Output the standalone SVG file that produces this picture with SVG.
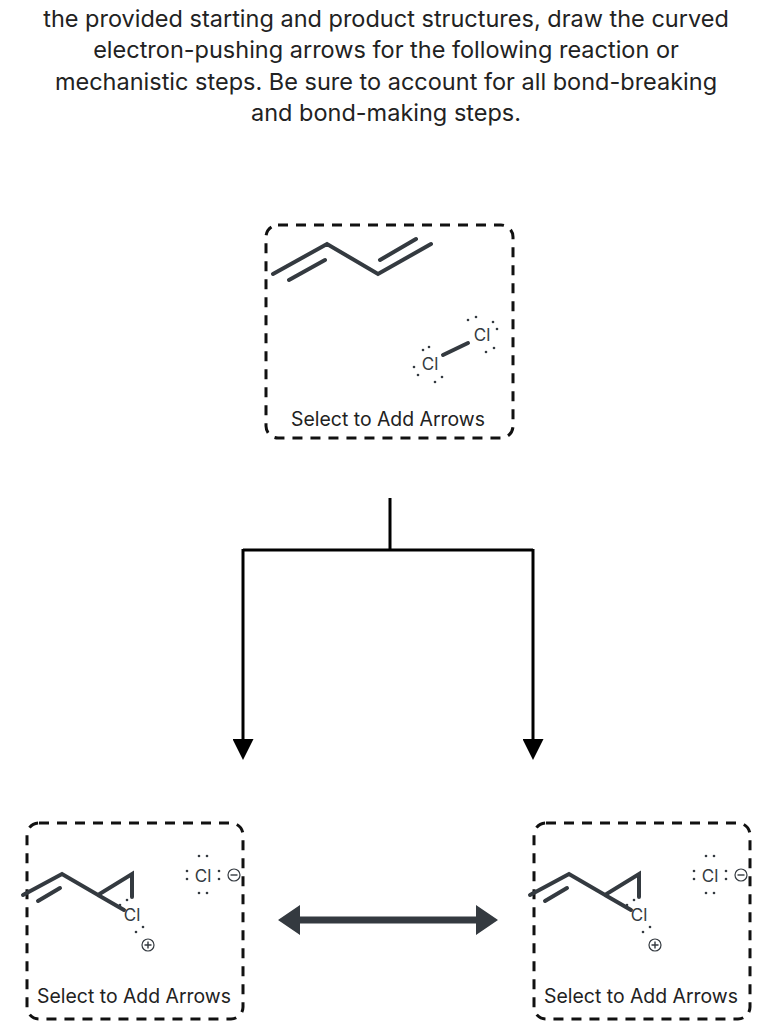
<svg xmlns="http://www.w3.org/2000/svg" width="771" height="1024" viewBox="0 0 771 1024">
<style>
.h{font-family:"Inter","Liberation Sans",sans-serif;font-size:23.5px;fill:#222;text-anchor:middle}
.box{fill:none;stroke:#111;stroke-width:3;stroke-dasharray:10,8}
.b{stroke:#343a40;stroke-width:4;fill:none;stroke-linecap:round}
.at{font-family:"Inter","Liberation Sans",sans-serif;font-size:17px;fill:#343a40;text-anchor:middle}
.lab{font-family:"Inter","Liberation Sans",sans-serif;font-size:19.4px;fill:#222;text-anchor:middle}
.d{fill:#343a40}
.c{stroke:#000;stroke-width:3;fill:none}
</style>
<defs>
<marker id="ah" markerWidth="7" markerHeight="7" refX="3" refY="3.5" orient="auto" markerUnits="strokeWidth"><path d="M0,0L7,3.5L0,7z" fill="#000"/></marker>
<g id="prod">
<path class="b" d="M3,895L42,874L78,895L112,874L112,897M78,895L104,910"/>
<path class="b" d="M18,901L40,888" stroke-width="3.5"/>
<text class="at" x="112" y="921">Cl</text>
<circle class="d" cx="100" cy="905" r="1.3"/><circle class="d" cx="107" cy="900" r="1.3"/>
<circle class="d" cx="116" cy="932" r="1.3"/><circle class="d" cx="123" cy="927" r="1.3"/>
<circle cx="128" cy="945" r="6" fill="none" stroke="#343a40" stroke-width="1.2"/>
<path d="M124.5,945h7M128,941.5v7" stroke="#343a40" stroke-width="1.4"/>
<text class="at" x="183" y="882">Cl</text>
<circle class="d" cx="179" cy="856" r="1.3"/><circle class="d" cx="187" cy="856" r="1.3"/>
<circle class="d" cx="179" cy="893" r="1.3"/><circle class="d" cx="187" cy="893" r="1.3"/>
<circle class="d" cx="167" cy="871" r="1.3"/><circle class="d" cx="167" cy="879" r="1.3"/>
<circle class="d" cx="199" cy="871" r="1.3"/><circle class="d" cx="199" cy="879" r="1.3"/>
<circle cx="214" cy="875" r="6" fill="none" stroke="#343a40" stroke-width="1.2"/>
<path d="M210.5,875h7" stroke="#343a40" stroke-width="1.4"/>
</g>
</defs>
<g id="header">
<text class="h" x="386" y="27">the provided starting and product structures, draw the curved</text>
<text class="h" x="386" y="58">electron-pushing arrows for the following reaction or</text>
<text class="h" x="386" y="90">mechanistic steps. Be sure to account for all bond-breaking</text>
<text class="h" x="386" y="121">and bond-making steps.</text>
</g>
<g id="start">
<rect class="box" x="266" y="225" width="247" height="213" rx="12"/>
<path class="b" d="M273,274L327,244L378,274L431,244M289,280L325,260M380,260L416,239"/>
<path class="b" d="M443,355L468,343"/>
<text class="at" x="430" y="370">Cl</text>
<text class="at" x="482" y="341">Cl</text>
<circle class="d" cx="423" cy="350" r="1.3"/><circle class="d" cx="429" cy="347" r="1.3"/>
<circle class="d" cx="414" cy="367" r="1.3"/><circle class="d" cx="418" cy="375" r="1.3"/>
<circle class="d" cx="435" cy="382" r="1.3"/><circle class="d" cx="442" cy="377" r="1.3"/>
<circle class="d" cx="468" cy="320" r="1.3"/><circle class="d" cx="476" cy="317" r="1.3"/>
<circle class="d" cx="493" cy="322" r="1.3"/><circle class="d" cx="497" cy="329" r="1.3"/>
<circle class="d" cx="486" cy="352" r="1.3"/><circle class="d" cx="494" cy="348" r="1.3"/>
<text class="lab" x="388" y="426">Select to Add Arrows</text>
</g>
<g id="connectors">
<path class="c" d="M390,498V550M243,550H533"/>
<path class="c" d="M243,549V748" marker-end="url(#ah)"/>
<path class="c" d="M533,549V748" marker-end="url(#ah)"/>
<path d="M292,920H484" stroke="#343a40" stroke-width="7"/>
<path d="M278,920L300,905V935z M498,920L476,905V935z" fill="#343a40"/>
</g>
<g id="p1">
<rect class="box" x="27" y="823" width="216" height="196" rx="12"/>
<use href="#prod" x="20"/>
<text class="lab" x="134" y="1003">Select to Add Arrows</text>
</g>
<g id="p2">
<rect class="box" x="534" y="823" width="216" height="196" rx="12"/>
<use href="#prod" x="527"/>
<text class="lab" x="641" y="1003">Select to Add Arrows</text>
</g>
</svg>
